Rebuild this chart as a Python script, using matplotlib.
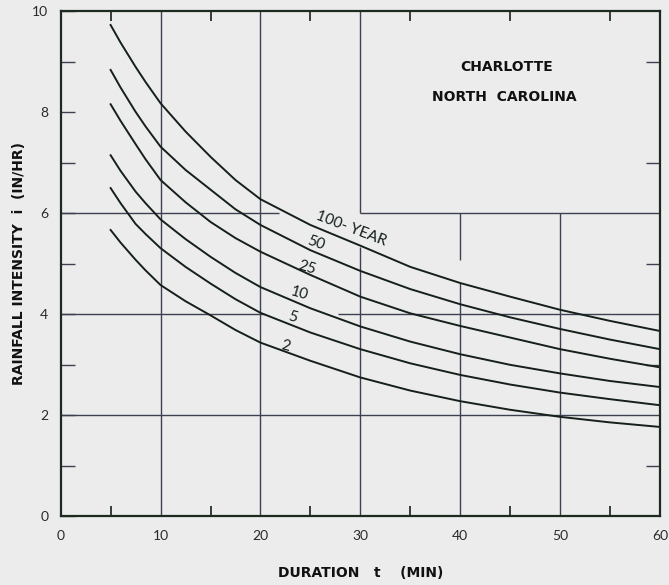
import matplotlib
matplotlib.use('Agg')
import matplotlib.pyplot as plt
import numpy as np

# IDF curves, Charlotte NC
durations = [5, 6, 7.5, 8.5, 10, 12.5, 15, 17.5, 20, 25, 30, 35, 40, 45, 50, 55, 60]
i_100 = [9.73, 9.38, 8.90, 8.60, 8.18, 7.62, 7.12, 6.66, 6.28, 5.77, 5.36, 4.94, 4.62, 4.35, 4.09, 3.87, 3.67]
i_50 = [8.84, 8.49, 8.01, 7.72, 7.32, 6.86, 6.47, 6.08, 5.77, 5.27, 4.86, 4.50, 4.20, 3.94, 3.71, 3.50, 3.31]
i_25 = [8.16, 7.83, 7.37, 7.07, 6.66, 6.22, 5.83, 5.51, 5.24, 4.78, 4.35, 4.02, 3.77, 3.54, 3.31, 3.12, 2.95]
i_10 = [7.15, 6.84, 6.43, 6.20, 5.88, 5.49, 5.14, 4.82, 4.54, 4.12, 3.76, 3.46, 3.21, 3.00, 2.83, 2.68, 2.56]
i_5 = [6.50, 6.20, 5.79, 5.59, 5.31, 4.94, 4.61, 4.30, 4.03, 3.64, 3.31, 3.03, 2.80, 2.61, 2.45, 2.32, 2.20]
i_2 = [5.67, 5.42, 5.08, 4.87, 4.58, 4.26, 3.98, 3.69, 3.44, 3.08, 2.75, 2.49, 2.28, 2.11, 1.97, 1.86, 1.77]

curve_labels = ['100- YEAR', '50', '25', '10', '5', '2']
x_ticks = [0, 10, 20, 30, 40, 50, 60]
y_ticks = [0, 2, 4, 6, 8, 10]

paper = '#ececec'
ink = '#15201a'
grid = '#3c4050'

fig = plt.figure(figsize=(6.69, 5.85), dpi=100, facecolor=paper)
ax = fig.add_axes([0.0907, 0.1174, 0.8958, 0.8632])
ax.set_facecolor(paper)
ax.set_xlim(0, 60)
ax.set_ylim(0, 10)

# broken grid lines like the original drawing
ax.vlines(10, 0, 10, color=grid, lw=1.0)
ax.vlines(20, 0, 10, color=grid, lw=1.0)
ax.vlines(30, 0, 5.34, color=grid, lw=1.0)
ax.vlines(30, 6, 10, color=grid, lw=1.0)
ax.vlines(40, 0, 4.62, color=grid, lw=1.0)
ax.vlines(40, 5.07, 6, color=grid, lw=1.0)
ax.vlines(50, 0, 6, color=grid, lw=1.0)
ax.hlines(2, 0, 60, color=grid, lw=1.0)
ax.hlines(4, 0, 20.5, color=grid, lw=1.0)
ax.hlines(4, 27.8, 60, color=grid, lw=1.0)
ax.hlines(6, 0, 21.9, color=grid, lw=1.0)
ax.hlines(6, 30, 60, color=grid, lw=1.0)

for vals in [i_100, i_50, i_25, i_10, i_5, i_2]:
    ax.plot(durations, vals, color=ink, lw=1.4, solid_joinstyle='round')

thin = dict(family=['Lato', 'DejaVu Sans'], color=ink)
label_pos = [(29.1, 5.70, -21), (25.5, 5.41, -19), (24.7, 4.92, -17),
             (23.9, 4.42, -16), (23.2, 3.95, -15), (22.5, 3.36, -14)]
for txt, (lx, ly, rot) in zip(curve_labels, label_pos):
    ax.text(lx, ly, txt, fontsize=11, rotation=rot, ha='center', va='center', **thin)

heavy = dict(family=['Liberation Sans Narrow', 'DejaVu Sans'], weight='bold', color='#111111')
ax.text(44.6, 8.89, 'CHARLOTTE', fontsize=10, ha='center', va='center', **heavy)
ax.text(44.4, 8.30, 'NORTH  CAROLINA', fontsize=10, ha='center', va='center', **heavy)

ax.set_xticks(x_ticks)
ax.set_xticks([5, 15, 25, 35, 45, 55], minor=True)
ax.set_yticks(y_ticks)
ax.set_yticks([1, 3, 5, 7, 9], minor=True)
ax.tick_params(axis='x', which='major', length=0, pad=10, labelsize=10)
ax.tick_params(axis='x', which='minor', direction='in', length=7, top=True, bottom=True,
               width=1.2, color=ink)
ax.tick_params(axis='y', which='major', direction='in', length=10, pad=9, labelsize=10,
               width=1.0, color=grid)
ax.tick_params(axis='y', which='minor', direction='in', length=10, left=True, right=True,
               width=1.0, color=grid)
for lab in ax.get_xticklabels() + ax.get_yticklabels():
    lab.set_fontfamily(['Lato', 'DejaVu Sans'])
    lab.set_color('#2a2a2a')

for sp in ax.spines.values():
    sp.set_color('#1c2a1f')
    sp.set_linewidth(1.6)

ax.set_xlabel('DURATION   t    (MIN)', fontsize=10, **heavy)
ax.set_ylabel('RAINFALL INTENSITY  i  (IN/HR)', fontsize=10, **heavy)
ax.xaxis.set_label_coords(0.5, -0.098)
ax.yaxis.set_label_coords(-0.058, 0.50)

fig.savefig('out.png', dpi=100, facecolor=paper)
